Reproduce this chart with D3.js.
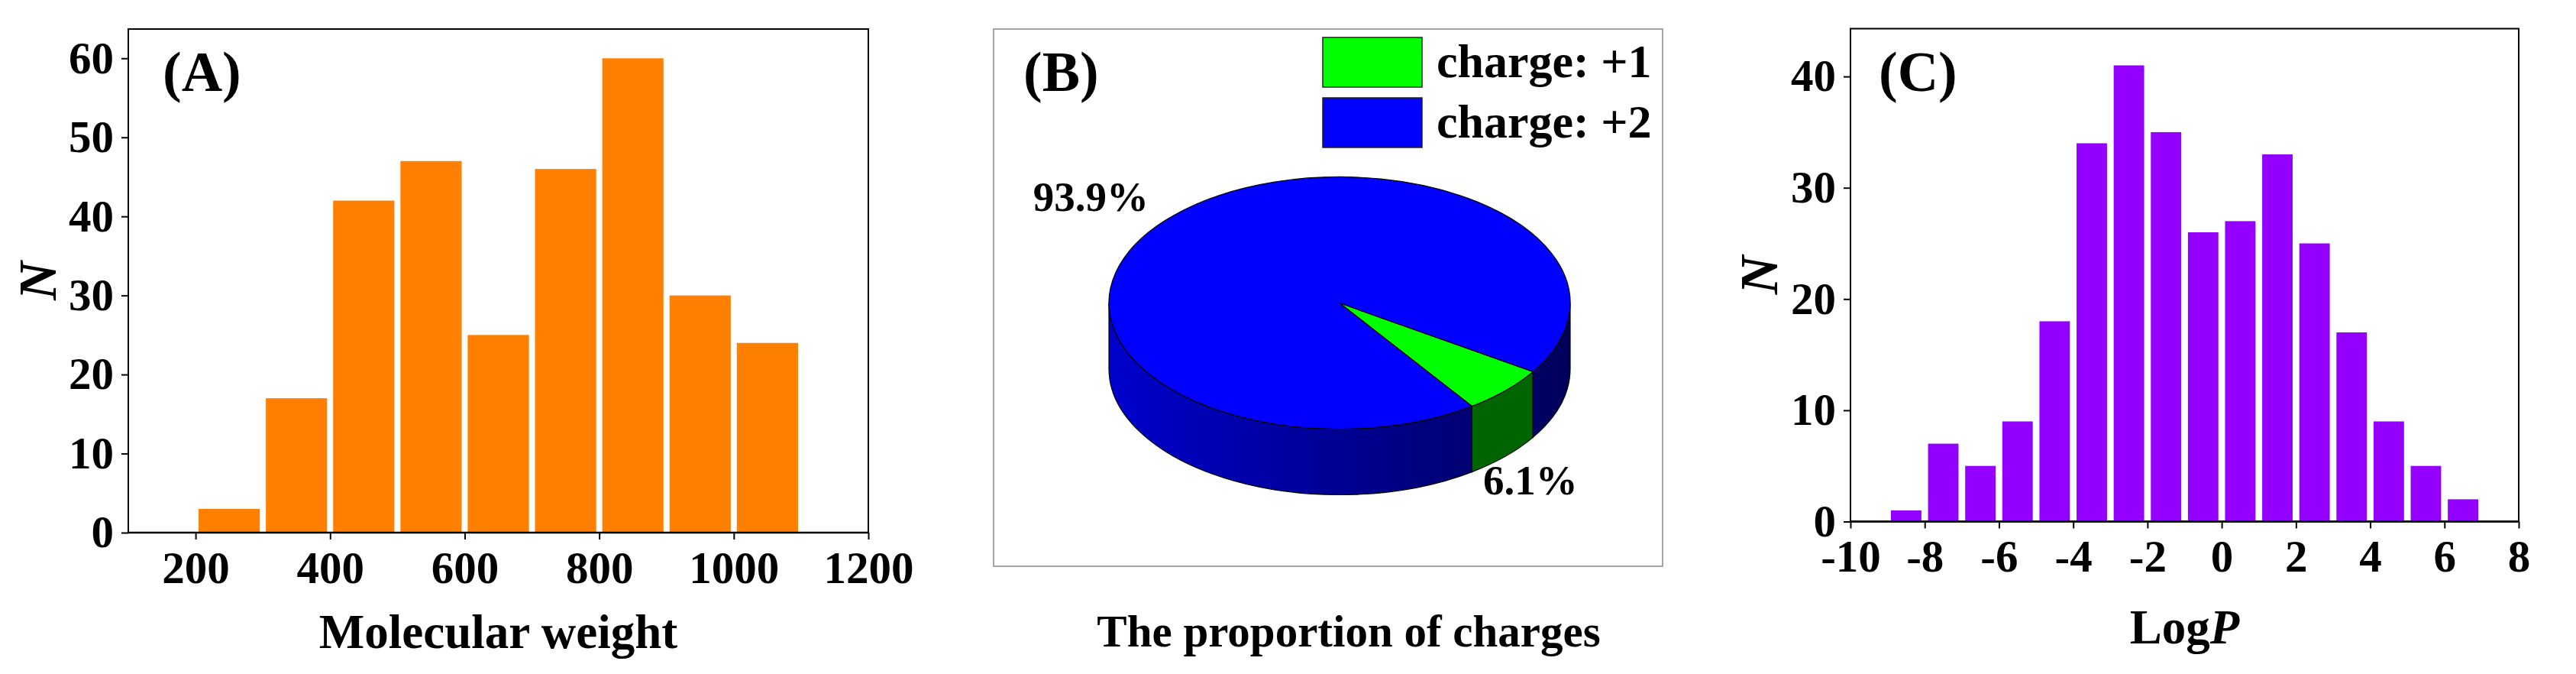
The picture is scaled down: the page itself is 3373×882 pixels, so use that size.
<!DOCTYPE html>
<html>
<head>
<meta charset="utf-8">
<script src="https://cdn.jsdelivr.net/npm/d3@7"></script>
<style>
  body { margin: 0; background: #fff; }
  text { font-family: "Liberation Serif", "Times New Roman", serif; font-weight: bold; }
</style>
</head>
<body>
<script>
// panel A: molecular weight histogram
var mwBinStarts = [200, 300, 400, 500, 600, 700, 800, 900, 1000];
var mwCounts = [3, 17, 42, 47, 25, 46, 60, 30, 24];
var mwXTicks = [200, 400, 600, 800, 1000, 1200];
var mwYTicks = [0, 10, 20, 30, 40, 50, 60];

// panel B: charge proportion
var chargeLabels = ["charge: +1", "charge: +2"];
var chargeShares = [6.1, 93.9];
var chargeColors = ["#00ff00", "#0000ff"];
var chargeSideColors = ["#006400", "url(#blueSide)"];

// panel C: LogP histogram
var logpBinStarts = [-9, -8, -7, -6, -5, -4, -3, -2, -1, 0, 1, 2, 3, 4, 5, 6];
var logpCounts = [1, 7, 5, 9, 18, 34, 41, 35, 26, 27, 33, 25, 17, 9, 5, 2];
var logpXTicks = [-10, -8, -6, -4, -2, 0, 2, 4, 6, 8];
var logpYTicks = [0, 10, 20, 30, 40];

var W = 3373, H = 882;
var svg = d3.select("body").append("svg")
    .attr("width", W)
    .attr("height", H);

var defs = svg.append("defs");
var grad = defs.append("linearGradient")
    .attr("id", "blueSide")
    .attr("gradientUnits", "userSpaceOnUse")
    .attr("x1", 1452).attr("x2", 2056)
    .attr("y1", 0).attr("y2", 0);
grad.append("stop").attr("offset", "0%").attr("stop-color", "#0000cc");
grad.append("stop").attr("offset", "100%").attr("stop-color", "#00005a");

function histPanel(o) {
    var g = svg.append("g");
    var x = d3.scaleLinear().domain(o.xDomain).range([o.left, o.right]);
    var y = d3.scaleLinear().domain([0, o.yMax]).range([o.bottom, o.top]);

    var bins = o.starts.map(function(s, i) { return {x0: s, x1: s + o.binW, n: o.counts[i]}; });

    g.selectAll("rect.bar")
        .data(bins)
        .enter()
        .append("rect")
        .classed("bar", true)
        .attr("x", function(d) { return x(d.x0) + o.inset * (x(d.x1) - x(d.x0)); })
        .attr("width", function(d) { return (x(d.x1) - x(d.x0)) * (1 - 2 * o.inset); })
        .attr("y", function(d) { return y(d.n); })
        .attr("height", function(d) { return y(0) - y(d.n); })
        .attr("fill", o.color);

    //frame
    g.append("rect")
        .attr("x", o.left).attr("y", o.top)
        .attr("width", o.right - o.left).attr("height", o.bottom - o.top)
        .attr("fill", "none").attr("stroke", "#000").attr("stroke-width", 2);

    var xa = g.append("g")
        .attr("transform", "translate(0," + o.bottom + ")")
        .call(d3.axisBottom(x).tickValues(o.xTicks).tickSize(9).tickPadding(15)
            .tickFormat(function(d) { return String(d); }));
    var ya = g.append("g")
        .attr("transform", "translate(" + o.left + ",0)")
        .call(d3.axisLeft(y).tickValues(o.yTicks).tickSize(9).tickPadding(10)
            .tickFormat(function(d) { return String(d); }));

    [xa, ya].forEach(function(a) {
        a.selectAll(".tick line").attr("stroke-width", 2);
        a.selectAll(".tick text")
            .attr("font-size", 59)
            .attr("font-family", "'Liberation Serif', 'Times New Roman', serif")
            .attr("font-weight", "bold")
            .attr("fill", "#000");
    });
    ya.select(".domain").remove();
    xa.select(".domain").attr("stroke-width", 2.5).attr("d", "M" + o.left + ",0H" + o.right);

    //panel letter
    g.append("text")
        .attr("x", o.labelX).attr("y", 119)
        .attr("font-size", 74)
        .text(o.label);

    //x title
    var t = g.append("text")
        .attr("x", (o.left + o.right) / 2)
        .attr("y", o.titleY)
        .attr("text-anchor", "middle")
        .attr("font-size", 63);
    o.xTitle.forEach(function(p) {
        t.append("tspan").attr("font-style", p.italic ? "italic" : "normal").text(p.s);
    });

    //y title
    g.append("text")
        .attr("transform", "translate(" + o.nX + "," + ((o.top + o.bottom) / 2) + ") rotate(-90)")
        .attr("text-anchor", "middle")
        .attr("font-size", 70)
        .attr("font-style", "italic")
        .text("N");
}

histPanel({
    left: 168, right: 1137, top: 38, bottom: 697,
    xDomain: [100, 1200], yMax: 63.7,
    starts: mwBinStarts, counts: mwCounts, binW: 100,
    xTicks: mwXTicks, yTicks: mwYTicks,
    color: "#ff8000", inset: 0.045,
    label: "(A)", labelX: 213,
    xTitle: [{s: "Molecular weight"}], titleY: 848, nX: 73
});

histPanel({
    left: 2423, right: 3298, top: 37.5, bottom: 682.5,
    xDomain: [-10, 8], yMax: 44.3,
    starts: logpBinStarts, counts: logpCounts, binW: 1,
    xTicks: logpXTicks, yTicks: logpYTicks,
    color: "#9400ff", inset: 0.09,
    label: "(C)", labelX: 2460,
    xTitle: [{s: "Log"}, {s: "P", italic: true}], titleY: 842, nX: 2327
});

// ---- panel B: 3d pie ----
var pb = {left: 1301, right: 2177, top: 38, bottom: 741};
var pieG = svg.append("g");
pieG.append("rect")
    .attr("x", pb.left).attr("y", pb.top)
    .attr("width", pb.right - pb.left).attr("height", pb.bottom - pb.top)
    .attr("fill", "none").attr("stroke", "#888").attr("stroke-width", 1.5);

var cx = 1754, cy = 396.5, rx = 302, ry = 165, depth = 86;

var arcs = d3.pie().sort(null)
    .startAngle(123 * Math.PI / 180)
    .endAngle(123 * Math.PI / 180 + 2 * Math.PI)(chargeShares);

function pt(a, dy) {
    return [cx + rx * Math.sin(a), cy - ry * Math.cos(a) + (dy || 0)];
}

function topPath(d) {
    var p0 = pt(d.startAngle), p1 = pt(d.endAngle);
    var large = (d.endAngle - d.startAngle) > Math.PI ? 1 : 0;
    return "M" + cx + "," + cy + "L" + p0 + "A" + rx + "," + ry + " 0 " + large + " 1 " + p1 + "Z";
}

function wallPath(s, e) {
    var p0 = pt(s), p1 = pt(e), q1 = pt(e, depth), q0 = pt(s, depth);
    return "M" + p0 + "A" + rx + "," + ry + " 0 0 1 " + p1 +
        "L" + q1 + "A" + rx + "," + ry + " 0 0 0 " + q0 + "Z";
}

// visible front of the side: d3 angles in (pi/2, 3pi/2) + 2k*pi
var walls = [];
arcs.forEach(function(d, i) {
    [0, 1].forEach(function(k) {
        var lo = Math.PI / 2 + 2 * Math.PI * k, hi = 3 * Math.PI / 2 + 2 * Math.PI * k;
        var s = Math.max(d.startAngle, lo), e = Math.min(d.endAngle, hi);
        if (e > s) walls.push({s: s, e: e, i: i});
    });
});

pieG.selectAll("path.wall")
    .data(walls)
    .enter()
    .append("path")
    .classed("wall", true)
    .attr("d", function(d) { return wallPath(d.s, d.e); })
    .attr("fill", function(d) { return chargeSideColors[d.i]; })
    .attr("stroke", "#000")
    .attr("stroke-width", 1.2);

pieG.selectAll("path.top")
    .data(arcs)
    .enter()
    .append("path")
    .classed("top", true)
    .attr("d", topPath)
    .attr("fill", function(d, i) { return chargeColors[i]; })
    .attr("stroke", "#000")
    .attr("stroke-width", 1.2);

//slice labels: back ones sit above the rim, front ones under the side wall
function midA(d) { return (d.startAngle + d.endAngle) / 2; }
pieG.selectAll("text.pct")
    .data(arcs)
    .enter()
    .append("text")
    .classed("pct", true)
    .attr("font-size", 55)
    .attr("text-anchor", function(d) { return Math.sin(midA(d)) < 0 ? "end" : "middle"; })
    .attr("x", function(d) { return cx + rx * 1.15 * Math.sin(midA(d)); })
    .attr("y", function(d) {
        var m = midA(d);
        var yy = cy - ry * 1.15 * Math.cos(m);
        return -Math.cos(m) > 0 ? yy + depth + 33 : yy + 11;
    })
    .text(function(d) { return d.data.toFixed(1) + "%"; });

//legend
var leg = pieG.selectAll("g.leg")
    .data(chargeLabels)
    .enter()
    .append("g")
    .classed("leg", true)
    .attr("transform", function(d, i) { return "translate(1732," + (49 + i * 79) + ")"; });
leg.append("rect")
    .attr("width", 130).attr("height", 65)
    .attr("fill", function(d, i) { return chargeColors[i]; })
    .attr("stroke", "#222").attr("stroke-width", 1.5);
leg.append("text")
    .attr("x", 149).attr("y", 52)
    .attr("font-size", 62)
    .text(function(d) { return d; });

pieG.append("text")
    .attr("x", 1340).attr("y", 119)
    .attr("font-size", 74)
    .text("(B)");

pieG.append("text")
    .attr("x", 1766).attr("y", 846)
    .attr("text-anchor", "middle")
    .attr("font-size", 59)
    .text("The proportion of charges");
</script>
</body>
</html>
